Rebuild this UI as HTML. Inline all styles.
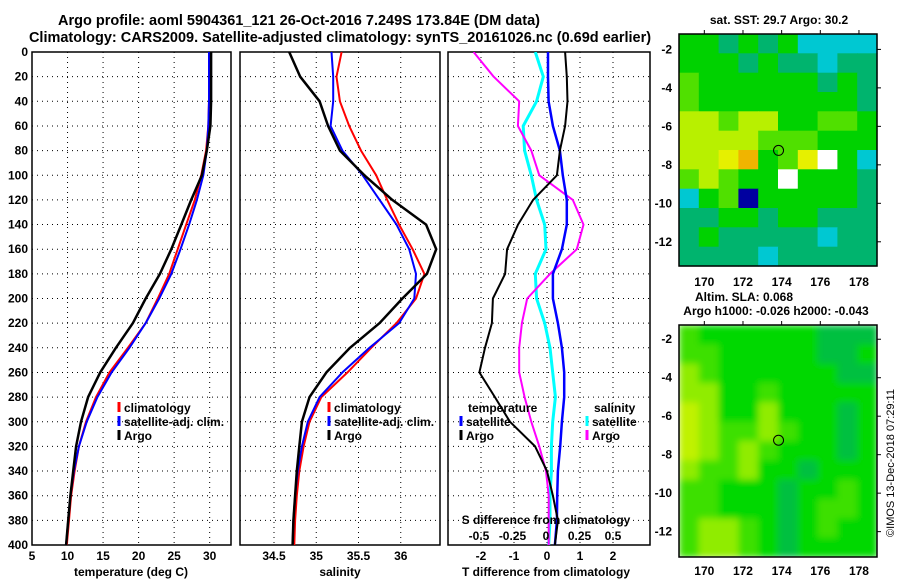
<!DOCTYPE html>
<html><head><meta charset="utf-8">
<style>
html,body{margin:0;padding:0;background:#fff;}
svg{display:block;font-family:"Liberation Sans",sans-serif;font-weight:bold;}
</style></head>
<body>
<svg id="chart" width="900" height="580" viewBox="0 0 900 580" xmlns="http://www.w3.org/2000/svg">
<defs>
<filter id="blur" x="0" y="0" width="1" height="1"><feGaussianBlur stdDeviation="3.5"/></filter>
<clipPath id="clipMap2"><rect x="679" y="325" width="198" height="232"/></clipPath>
<clipPath id="clipP1"><rect x="32" y="52" width="199" height="493"/></clipPath>
<clipPath id="clipP2"><rect x="240" y="52" width="200" height="493"/></clipPath>
<clipPath id="clipP3"><rect x="448" y="52" width="202" height="493"/></clipPath>
</defs>
<text x="299" y="25" font-size="14.5" text-anchor="middle">Argo profile: aoml 5904361_121 26-Oct-2016 7.249S 173.84E (DM data)</text>
<text x="340" y="42" font-size="14.5" text-anchor="middle">Climatology: CARS2009. Satellite-adjusted climatology: synTS_20161026.nc (0.69d earlier)</text>
<g id="layer"></g>
<text x="779" y="24" font-size="12" text-anchor="middle">sat. SST: 29.7 Argo: 30.2</text>
<text x="744" y="301" font-size="12" text-anchor="middle">Altim. SLA: 0.068</text>
<text x="776" y="315" font-size="12" text-anchor="middle">Argo h1000: -0.026 h2000: -0.043</text>
<text x="0" y="0" font-size="11" font-weight="normal" text-anchor="middle" transform="translate(894,463) rotate(-90)">©IMOS 13-Dec-2018 07:29:11</text>
</svg>
<script>
const depths=[0,20,40,60,80,100,120,140,160,180,200,220,240,260,280,300,320,340,360,380,400];
const tempArgo=[30.2,30.2,30.2,30.1,29.6,28.9,27.4,26.0,24.6,23.0,21.0,19.2,16.8,14.6,12.9,11.9,11.2,10.8,10.4,10.1,9.8];
const tempClim=[30.0,30.0,29.9,29.8,29.5,28.8,27.9,26.7,25.5,24.3,22.7,21.0,18.5,15.9,14.0,12.6,11.6,11.0,10.5,10.2,9.9];
const tempSat=[29.9,29.9,29.9,29.8,29.6,29.1,28.2,27.1,25.9,24.6,22.9,21.0,18.7,16.2,14.2,12.7,11.6,10.9,10.4,10.1,9.8];
const salArgo=[34.68,34.81,35.04,35.14,35.28,35.57,35.9,36.3,36.42,36.31,36.02,35.75,35.4,35.12,34.92,34.83,34.8,34.77,34.75,34.73,34.72];
const salClim=[35.3,35.24,35.28,35.39,35.53,35.71,35.84,35.98,36.14,36.28,36.18,35.95,35.65,35.37,35.06,34.92,34.85,34.8,34.77,34.75,34.74];
const salSat=[35.18,35.2,35.2,35.17,35.31,35.55,35.75,35.95,36.1,36.18,36.16,35.98,35.63,35.31,35.04,34.9,34.83,34.78,34.75,34.73,34.72];
const dTArgo=[0.55,0.6,0.62,0.55,0.39,0.3,-0.42,-0.88,-1.21,-1.27,-1.64,-1.67,-1.88,-2.05,-1.58,-1.12,-0.36,0.0,0.18,0.33,0.24];
const dTSat=[0.03,0.03,0.05,0.18,0.39,0.48,0.6,0.6,0.45,0.18,0.18,0.33,0.45,0.52,0.52,0.45,0.4,0.33,0.31,0.3,0.24];
const dSArgo=[-0.54,-0.39,-0.2,-0.21,-0.11,-0.05,0.2,0.28,0.23,0.03,-0.14,-0.18,-0.2,-0.2,-0.16,-0.11,-0.05,0.0,0.02,0.02,0.02];
const dSSat=[-0.08,-0.02,-0.07,-0.17,-0.16,-0.11,-0.07,-0.01,0.0,-0.08,-0.07,-0.01,0.03,0.05,0.07,0.05,0.04,0.04,0.03,0.03,0.02];
const depthTicks=[0,20,40,60,80,100,120,140,160,180,200,220,240,260,280,300,320,340,360,380,400];
const tempTicks=[5,10,15,20,25,30];
const salTicks=[34.5,35,35.5,36];
const dTTicks=[-2,-1,0,1,2];
const dSTicks=[-0.5,-0.25,0,0.25,0.5];
const dSTickLabels=["-0.5","-0.25","0","0.25","0.5"];
const lonTicks=[170,172,174,176,178];
const latTicks=[-2,-4,-6,-8,-10,-12];
const sstGrid=[
[1,1,0,1,0,1,5,5,5,5],
[1,1,1,0,1,0,0,5,0,0],
[2,1,1,1,1,1,1,0,1,0],
[2,1,1,1,1,1,1,1,1,0],
[3,3,2,3,3,1,1,2,2,1],
[3,3,3,3,2,2,2,1,1,1],
[3,3,4,7,1,2,4,6,1,5],
[2,3,2,1,1,6,1,1,1,0],
[5,1,2,8,1,1,1,1,1,0],
[0,0,1,1,0,1,1,0,0,0],
[0,1,0,0,0,0,0,5,0,0],
[0,0,0,0,5,0,0,0,0,0]];
const slaGrid=[
[2,1,1,1,1,1,1,0,0,0],
[2,2,1,1,1,1,1,0,0,1],
[3,2,1,1,1,1,1,1,0,0],
[3,3,1,1,2,1,1,1,1,1],
[4,3,1,1,3,1,1,1,0,1],
[4,3,2,2,3,2,1,1,0,1],
[4,3,2,3,2,1,1,1,0,1],
[3,2,2,3,1,1,0,1,1,1],
[2,2,1,1,1,0,1,1,2,1],
[2,2,1,1,1,0,1,2,2,1],
[2,3,3,2,1,0,1,2,1,1],
[2,3,3,2,1,0,1,1,1,1]];
const argoLon=173.84, argoLat=-7.25;

const NS="http://www.w3.org/2000/svg";
const layer=document.getElementById('layer');
function mk(tag,attrs,parent){const e=document.createElementNS(NS,tag);for(const k in attrs)e.setAttribute(k,attrs[k]);(parent||layer).appendChild(e);return e;}
function txt(x,y,s,anchor,size,parent){const t=mk('text',{x:x,y:y,'font-size':size||12,'text-anchor':anchor||'middle'},parent);t.textContent=s;return t;}

const yD=d=>52+d*493/400;
const xT=t=>32+(t-5)*199/28;
const xS=s=>274+(s-34.5)*84.5;
const xdT=t=>547+t*33;
const xdS=s=>546+s*134;

function panel(name,x0,x1,xs,xticks,labels,clip){
  const g=mk('g',{});
  
  
  depthTicks.forEach(d=>{if(d>0&&d<400)mk('line',{x1:x0,x2:x1,y1:yD(d),y2:yD(d),stroke:'#000','stroke-dasharray':'1,4'},g);});
  xticks.forEach((v,i)=>{const x=xs(v);if(x>x0+1&&x<x1-1)mk('line',{x1:x,x2:x,y1:52,y2:545,stroke:'#000','stroke-dasharray':'1,4'},g);
    const t=txt(x,560,labels?labels[i]:String(v),'middle',12,g);
    
    });
  const r=mk('rect',{x:x0,y:52,width:x1-x0,height:493,fill:'none',stroke:'#000','stroke-width':1.5},g);
  
  
  return g;
}
function series(name,vals,xs,color,w,clip){
  const pts=vals.map((v,i)=>xs(v).toFixed(1)+','+yD(depths[i]).toFixed(1)).join(' ');
  const p=mk('polyline',{points:pts,fill:'none',stroke:color,'stroke-width':w,'stroke-linejoin':'round','clip-path':'url(#'+clip+')'});
  
  
}
function legend(x,y,color,label,name){
  const g=mk('g',{});
  
  
  mk('line',{x1:x,x2:x,y1:y-10,y2:y,stroke:color,'stroke-width':3},g);
  const t=mk('text',{x:x+5,y:y,'font-size':12},g);t.textContent=label;
}

// Panel 1
panel('temperature-panel',32,231,xT,tempTicks,null,'clipP1');
depthTicks.forEach(d=>{const t=txt(28,yD(d)+4,String(d),'end',12);
  
  });
series('temp-clim-line',tempClim,xT,'#f00',2,'clipP1');
series('temp-sat-line',tempSat,xT,'#00f',2,'clipP1');
series('temp-argo-line',tempArgo,xT,'#000',2.5,'clipP1');
let t1=txt(131,576,'temperature (deg C)');
legend(119,412,'#f00','climatology','legend-climatology');
legend(119,426,'#00f','satellite-adj. clim.','legend-satellite-adj');
legend(119,440,'#000','Argo','legend-argo');

// Panel 2
panel('salinity-panel',240,440,xS,salTicks,null,'clipP2');
series('sal-clim-line',salClim,xS,'#f00',2,'clipP2');
series('sal-sat-line',salSat,xS,'#00f',2,'clipP2');
series('sal-argo-line',salArgo,xS,'#000',2.5,'clipP2');
let t2=txt(340,576,'salinity');
legend(329,412,'#f00','climatology','legend-climatology-2');
legend(329,426,'#00f','satellite-adj. clim.','legend-satellite-adj-2');
legend(329,440,'#000','Argo','legend-argo-2');

// Panel 3
panel('difference-panel',448,650,xdT,dTTicks,null,'clipP3');
series('dS-sat-line',dSSat,xdS,'#0ff',3,'clipP3');
series('dS-argo-line',dSArgo,xdS,'#f0f',2,'clipP3');
series('dT-sat-line',dTSat,xdT,'#00f',2.5,'clipP3');
series('dT-argo-line',dTArgo,xdT,'#000',2,'clipP3');
let t3=txt(546,576,'T difference from climatology');
let t4=txt(546,524,'S difference from climatology');
dSTicks.forEach((v,i)=>{const t=txt(xdS(v),540,dSTickLabels[i]);
  
  });
let lt=txt(468,412,'temperature','start');
legend(461,426,'#00f','satellite','legend-t-satellite');
legend(461,440,'#000','Argo','legend-t-argo');
let ls=txt(594,412,'salinity','start');
legend(587,426,'#0ff','satellite','legend-s-satellite');
legend(587,440,'#f0f','Argo','legend-s-argo');

// Maps
const sstPal=['#00b46e','#00d200','#50e000','#b8f000','#e6f000','#00c8d2','#ffffff','#f0b400','#0000a0'];
const slaPal=['#00c040','#00d800','#3ce000','#90ec00','#c0f200'];
function map(name,top,grid,pal,labY,blur,clip){
  const L=679,R=877,B=top+232;
  const lat0=top===34?-1.2:-1.26;
  const lonX=l=>L+(l-168.69)*19.33;
  const latY=a=>top+(lat0-a)*19.24;
  const g=mk('g',{});
  
  
  const cells=mk('g',blur?{filter:'url(#blur)','clip-path':'url(#'+clip+')'}:{},g);
  const nr=grid.length,nc=grid[0].length;
  const cw=(R-L)/nc,ch=(B-top)/nr;
  grid.forEach((row,r)=>row.forEach((v,c)=>{
    const e=mk('rect',{x:(L+c*cw).toFixed(1),y:(top+r*ch).toFixed(1),width:(cw+0.6).toFixed(1),height:(ch+0.6).toFixed(1),fill:pal[v]},cells);
    
    
  }));
  mk('rect',{x:L,y:top,width:R-L,height:B-top,fill:'none',stroke:'#000','stroke-width':1.5},g);
  lonTicks.forEach(l=>{const x=lonX(l);
    mk('line',{x1:x,x2:x,y1:top-4,y2:top,stroke:'#000'},g);
    const t=txt(x,labY,String(l),'middle',12,g);
    
    });
  latTicks.forEach(a=>{const y=latY(a);
    mk('line',{x1:R,x2:R+4,y1:y,y2:y,stroke:'#000'},g);
    const t=txt(672,y+4,String(a),'end',12,g);
    
    });
  const m=mk('circle',{cx:lonX(argoLon),cy:latY(argoLat),r:5,fill:'none',stroke:'#000','stroke-width':1},g);
  
  
}
map('sst-map',34,sstGrid,sstPal,286,false,null);
map('sla-map',325,slaGrid,slaPal,575,true,'clipMap2');
</script>
</body></html>
